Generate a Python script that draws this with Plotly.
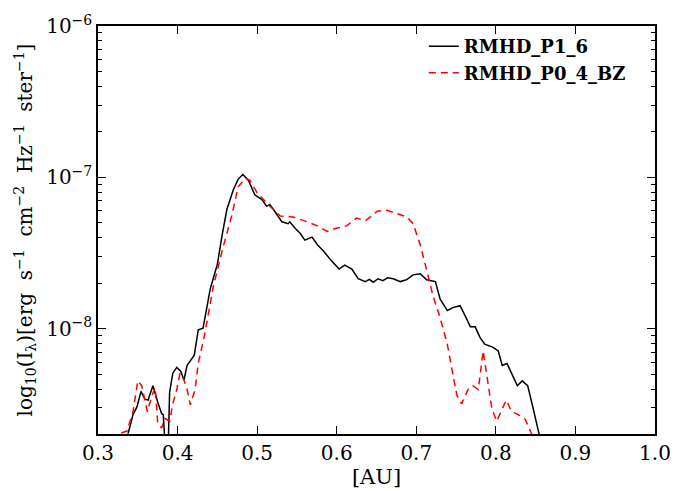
import plotly.graph_objects as go

# Black solid curve: RMHD_P1_6
x_p16 = [0.330, 0.3377, 0.344, 0.349, 0.354, 0.359, 0.363, 0.369, 0.375, 0.380, 0.382, 0.385,
         0.388, 0.390, 0.394, 0.399, 0.404, 0.408, 0.412, 0.418, 0.421, 0.426, 0.432, 0.441,
         0.450, 0.456, 0.462, 0.470, 0.476, 0.482, 0.489, 0.497, 0.506, 0.512, 0.516, 0.522,
         0.531, 0.539, 0.541, 0.548, 0.554, 0.560, 0.569, 0.576, 0.583, 0.592, 0.603, 0.610,
         0.619, 0.627, 0.636, 0.641, 0.646, 0.652, 0.658, 0.664, 0.671, 0.680, 0.688, 0.696,
         0.705, 0.713, 0.724, 0.730, 0.739, 0.746, 0.755, 0.761, 0.768, 0.774, 0.780, 0.786,
         0.796, 0.803, 0.808, 0.814, 0.820, 0.827, 0.833, 0.840, 0.847, 0.854, 0.860]
y_p16 = [1.5e-9, 2.02e-9, 2.71e-9, 3.05e-9, 3.86e-9, 3.43e-9, 3.38e-9, 4.21e-9, 3.28e-9, 2.75e-9,
         2.71e-9, 1.5e-9, 1.5e-9, 3.80e-9, 5.09e-9, 5.56e-9, 5.25e-9, 4.59e-9, 5.73e-9, 6.35e-9,
         6.7e-9, 9.86e-9, 1.01e-8, 1.83e-8, 2.67e-8, 4.15e-8, 6.16e-8, 8.26e-8, 9.71e-8, 1.045e-7,
         9.57e-8, 7.68e-8, 7.14e-8, 6.44e-8, 6.63e-8, 5.98e-8, 5.09e-8, 4.95e-8, 5.09e-8, 4.6e-8,
         4.27e-8, 3.85e-8, 4.03e-8, 3.58e-8, 3.28e-8, 2.87e-8, 2.48e-8, 2.63e-8, 2.48e-8, 2.14e-8,
         2.05e-8, 2.12e-8, 2.03e-8, 2.14e-8, 2.08e-8, 2.17e-8, 2.14e-8, 2.05e-8, 2.11e-8, 2.27e-8,
         2.31e-8, 2.11e-8, 2.05e-8, 1.57e-8, 1.32e-8, 1.38e-8, 1.42e-8, 1.23e-8, 1.03e-8, 1.03e-8,
         8.77e-9, 7.91e-9, 7.57e-9, 7.14e-9, 5.73e-9, 5.90e-9, 5.09e-9, 4.21e-9, 4.53e-9, 4.21e-9,
         2.96e-9, 2.02e-9, 1.5e-9]

# Red dashed curve: RMHD_P0_4_BZ
x_p04 = [0.320, 0.325, 0.3364, 0.344, 0.350, 0.355, 0.362, 0.368, 0.372, 0.375, 0.380, 0.384,
         0.390, 0.394, 0.399, 0.403, 0.407, 0.412, 0.416, 0.422, 0.426, 0.434, 0.445, 0.457,
         0.468, 0.476, 0.485, 0.491, 0.500, 0.516, 0.529, 0.545, 0.563, 0.575, 0.588, 0.598,
         0.613, 0.625, 0.636, 0.651, 0.663, 0.676, 0.688, 0.696, 0.705, 0.713, 0.721, 0.730,
         0.739, 0.745, 0.751, 0.757, 0.765, 0.771, 0.778, 0.784, 0.789, 0.795, 0.801, 0.808,
         0.813, 0.820, 0.828, 0.837, 0.845, 0.850]
y_p04 = [1.8e-9, 2.02e-9, 2.11e-9, 2.83e-9, 4.53e-9, 4.21e-9, 2.83e-9, 3.64e-9, 4.09e-9, 2.38e-9,
         2.21e-9, 2.56e-9, 2.45e-9, 3.2e-9, 3.97e-9, 5.09e-9, 4.73e-9, 3.97e-9, 3.14e-9, 3.97e-9,
         5.9e-9, 9.16e-9, 1.91e-8, 3.43e-8, 5.56e-8, 8.63e-8, 9.86e-8, 9.57e-8, 7.91e-8, 6.44e-8,
         5.56e-8, 5.48e-8, 5.09e-8, 4.80e-8, 4.40e-8, 4.59e-8, 4.80e-8, 5.39e-8, 5.16e-8, 5.98e-8,
         6.07e-8, 5.73e-8, 5.48e-8, 4.95e-8, 3.58e-8, 2.45e-8, 1.65e-8, 1.18e-8, 7.91e-9, 5.32e-9,
         3.64e-9, 3.19e-9, 3.97e-9, 4.21e-9, 3.97e-9, 7.14e-9, 4.87e-9, 2.96e-9, 2.45e-9, 2.96e-9,
         3.38e-9, 2.83e-9, 2.71e-9, 2.52e-9, 2.02e-9, 1.6e-9]

x_ticks = [0.3, 0.4, 0.5, 0.6, 0.7, 0.8, 0.9, 1.0]
y_ticks = [1e-8, 1e-7, 1e-6]
y_ticktext = ["10<sup>−8</sup>", "10<sup>−7</sup>", "10<sup>−6</sup>"]

font_serif = "DejaVu Serif"
sp = "&nbsp;&nbsp;"
y_title = ("log<sub>10</sub>(I<sub>λ</sub>)[erg" + sp + "s<sup>−1</sup>" + sp + "cm<sup>−2</sup>" + sp
           + "Hz<sup>−1</sup>" + sp + "ster<sup>−1</sup>]")

fig = go.Figure()
fig.add_trace(go.Scatter(x=x_p16, y=y_p16, mode="lines", name="<b>RMHD_P1_6</b>",
                         line=dict(color="black", width=1.5)))
fig.add_trace(go.Scatter(x=x_p04, y=y_p04, mode="lines", name="<b>RMHD_P0_4_BZ</b>",
                         line=dict(color="#ff0000", width=1.5, dash="7px,5px")))

fig.update_layout(
    width=695, height=491,
    margin=dict(l=98, r=40, t=20, b=48),
    plot_bgcolor="white", paper_bgcolor="white",
    font=dict(family=font_serif, color="black", size=20),
    showlegend=True,
    legend=dict(x=0.585, y=0.995, xanchor="left", yanchor="top", bgcolor="rgba(0,0,0,0)",
                font=dict(family=font_serif, size=18), tracegroupgap=2),
)
fig.update_xaxes(
    range=[0.3, 1.0], tickvals=x_ticks, ticktext=[f"{v:.1f}" for v in x_ticks],
    showline=True, linecolor="black", linewidth=1.5, mirror="allticks",
    ticks="inside", ticklen=8, tickcolor="black", showgrid=False, zeroline=False,
    title=dict(text="[AU]", font=dict(size=21), standoff=0),
    tickfont=dict(size=20),
)
fig.update_yaxes(
    type="log", range=[-8.695, -6.0], tickvals=y_ticks, ticktext=y_ticktext,
    showline=True, linecolor="black", linewidth=1.5, mirror="allticks",
    ticks="inside", ticklen=8, tickcolor="black", showgrid=False, zeroline=False,
    minor=dict(ticks="inside", ticklen=4, tickcolor="black", dtick="D1", showgrid=False),
    title=dict(text=y_title, font=dict(size=20), standoff=8),
    tickfont=dict(size=20),
)

fig.write_html("out.html")
